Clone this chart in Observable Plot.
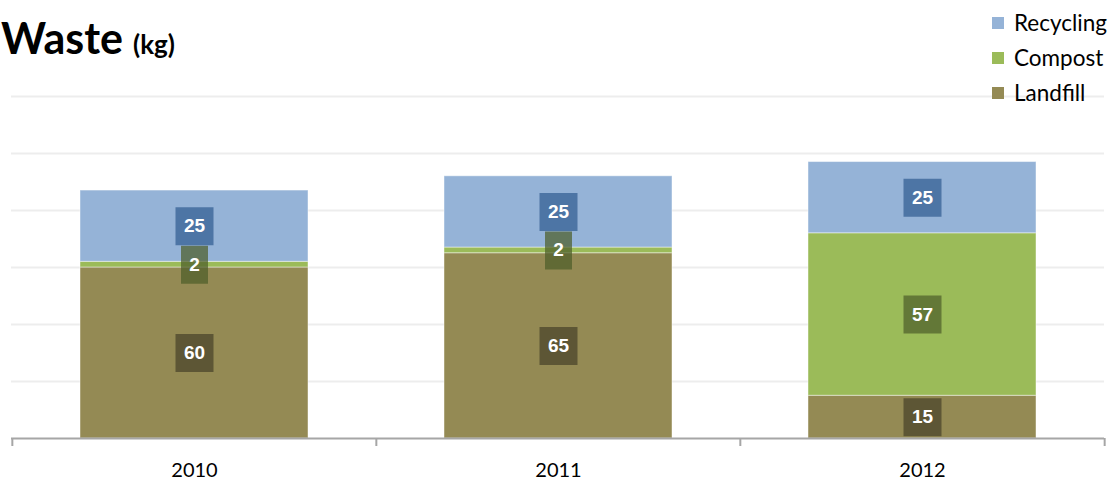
<!DOCTYPE html>
<html>
<head>
<meta charset="utf-8">
<script src="https://cdn.jsdelivr.net/npm/d3@7"></script>
<script src="https://cdn.jsdelivr.net/npm/@observablehq/plot@0.6"></script>
<style>
  html, body { margin: 0; padding: 0; background: #fff; }
  #wrap { position: relative; width: 1117px; height: 480px; overflow: hidden; }
  #chart { position: absolute; left: 0; top: 0; }
  #title { position: absolute; left: 1px; top: 16px; font-family: Lato, "Open Sans", sans-serif; font-weight: bold; color: #000; white-space: nowrap; line-height: 1; }
  #title .main { font-size: 43px; }
  #title .unit { font-size: 26px; margin-left: 10px; }
  #legend { position: absolute; left: 992px; top: 5px; font-family: Lato, "Open Sans", sans-serif; font-size: 22.5px; color: #000; }
  #legend .row { display: flex; align-items: center; height: 35px; white-space: nowrap; }
  #legend .sw { width: 12px; height: 12px; margin-right: 10px; flex: none; }
</style>
</head>
<body>
<div id="wrap">
  <div id="chart"></div>
  <div id="title"><span class="main">Waste</span><span class="unit">(kg)</span></div>
  <div id="legend"></div>
</div>
<script>
// ---- data ----
const years = ["2010", "2011", "2012"];
const seriesNames = ["Landfill", "Compost", "Recycling"]; // bottom to top
const landfill = [60, 65, 15];
const compost = [2, 2, 57];
const recycling = [25, 25, 25];
const gridValues = [20, 40, 60, 80, 100, 120];
const legendOrder = ["Recycling", "Compost", "Landfill"];

// ---- colors ----
const barColors = {Landfill: "#948a54", Compost: "#9bbb59", Recycling: "#95b3d7"};
const boxColors = {Landfill: "#484329", Compost: "#4e5e29", Recycling: "#325d92"};

const valuesBySeries = {Landfill: landfill, Compost: compost, Recycling: recycling};
const data = [];
years.forEach((y, i) => {
  seriesNames.forEach(s => data.push({year: y, series: s, value: valuesBySeries[s][i]}));
});

const W = 1117, H = 480;
const mL = 11, mR = 13, mT = 96, mB = 42;
const padIn = 0.375, padOut = 0.1875;
const step = (W - mL - mR) / (years.length - padIn + 2 * padOut);

// custom label box symbols
const wideBox = {draw(ctx) { ctx.rect(-19, -19, 38, 38); }};
const narrowBox = {draw(ctx) { ctx.rect(-13.5, -19, 27, 38); }};

const colorDomain = [...seriesNames, ...seriesNames.map(s => s + " box")];
const colorRange = [...seriesNames.map(s => barColors[s]), ...seriesNames.map(s => boxColors[s])];

const chart = Plot.plot({
  width: W,
  height: H,
  marginLeft: mL,
  marginRight: mR,
  marginTop: mT,
  marginBottom: mB,
  style: {fontFamily: "Lato, 'Open Sans', sans-serif", fontSize: "20px", color: "#000", background: "transparent"},
  x: {domain: years, paddingInner: padIn, paddingOuter: padOut, tickSize: 0, tickPadding: 24, label: null},
  y: {domain: [0, 120], axis: null},
  color: {domain: colorDomain, range: colorRange},
  symbol: {domain: ["wide", "narrow"], range: [wideBox, narrowBox]},
  marks: [
    Plot.ruleY(gridValues, {stroke: "#ededed", strokeWidth: 2}),
    Plot.barY(data, Plot.stackY({
      x: "year", y: "value", z: "series", fill: "series",
      order: seriesNames,
      stroke: "#ffffff", strokeOpacity: 0.45, strokeWidth: 1
    })),
    Plot.ruleY([0], {stroke: "#a6a6a6", strokeWidth: 2}),
    Plot.ruleX(years, {x: d => d, y1: 0, y2: 0, insetBottom: -8, dx: -step / 2, stroke: "#a6a6a6", strokeWidth: 2}),
    Plot.ruleX(years.slice(-1), {x: d => d, y1: 0, y2: 0, insetBottom: -8, dx: step / 2, stroke: "#a6a6a6", strokeWidth: 2}),
    Plot.dot(data, Plot.stackY({
      x: "year", y: "value", z: "series", order: seriesNames,
      fill: d => d.series + " box",
      symbol: d => String(d.value).length > 1 ? "wide" : "narrow",
      fillOpacity: 0.72, stroke: "none"
    })),
    Plot.text(data, Plot.stackY({
      x: "year", y: "value", z: "series", order: seriesNames,
      text: d => String(d.value),
      fill: "#ffffff", fontWeight: "bold", fontSize: 19,
      fontFamily: "'Liberation Sans', Arial, sans-serif"
    }))
  ]
});
document.getElementById("chart").appendChild(chart);

// legend
const legend = document.getElementById("legend");
legendOrder.forEach(s => {
  const row = document.createElement("div");
  row.className = "row";
  const sw = document.createElement("span");
  sw.className = "sw";
  sw.style.background = barColors[s];
  const label = document.createElement("span");
  label.textContent = s;
  row.appendChild(sw);
  row.appendChild(label);
  legend.appendChild(row);
});
</script>
</body>
</html>
